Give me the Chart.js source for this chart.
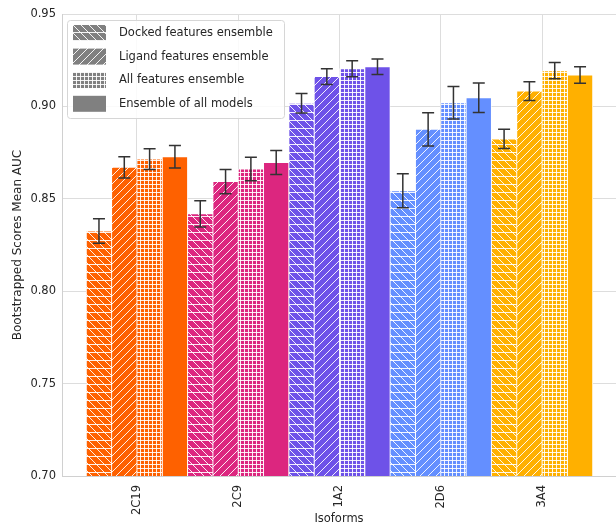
<!DOCTYPE html>
<html>
<head>
<meta charset="utf-8">
<script src="https://cdn.jsdelivr.net/npm/chart.js@4.4.0/dist/chart.umd.min.js"></script>
<style>
  html, body { margin: 0; padding: 0; background: #fff; overflow: hidden; }
  canvas { display: block; }
</style>
</head>
<body>
<canvas id="aucChart" width="616" height="527"></canvas>
<script>
const isoforms = ["2C19", "2C9", "1A2", "2D6", "3A4"];
const series_names = ["Docked features ensemble", "Ligand features ensemble", "All features ensemble", "Ensemble of all models"];
const docked = [0.8326, 0.8419, 0.9017, 0.8544, 0.8824];
const docked_err = [0.0066, 0.0071, 0.0053, 0.0092, 0.0052];
const ligand = [0.8670, 0.8593, 0.9161, 0.8876, 0.9083];
const ligand_err = [0.0058, 0.0065, 0.0043, 0.0090, 0.0051];
const all_features = [0.8715, 0.8661, 0.9204, 0.9020, 0.9193];
const all_err = [0.0056, 0.0064, 0.0043, 0.0088, 0.0044];
const ensemble = [0.8728, 0.8696, 0.9215, 0.9047, 0.9170];
const ensemble_err = [0.0061, 0.0065, 0.0042, 0.0080, 0.0045];
const y_ticks = [0.70, 0.75, 0.80, 0.85, 0.90, 0.95];
const isoform_colors = ["#fe6100", "#dc267f", "#6e52e8", "#648fff", "#ffb000"];
const hatches = ["docked", "ligand", "grid", "solid"];

const text_color = "#262626";
const grid_color = "#dddddd";
Chart.defaults.font.family = "'DejaVu Sans', sans-serif";
Chart.defaults.color = text_color;

// hatch fill, tiled from a small canvas
function makePattern(color, kind) {
  if (kind === "solid") return color;
  const s = kind === "grid" ? 4 : 8;
  const c = document.createElement("canvas");
  c.width = s;
  c.height = s;
  const ctx = c.getContext("2d");
  ctx.fillStyle = color;
  ctx.fillRect(0, 0, s, s);
  ctx.strokeStyle = "rgba(255,255,255,0.9)";
  ctx.lineWidth = 1;
  ctx.beginPath();
  if (kind === "grid") {
    ctx.moveTo(0, 0.5); ctx.lineTo(s, 0.5);
    ctx.moveTo(0.5, 0); ctx.lineTo(0.5, s);
  } else if (kind === "docked") {
    ctx.moveTo(0, 0.5); ctx.lineTo(s, 0.5);
    for (const o of [-s, 0, s]) { ctx.moveTo(o, 0); ctx.lineTo(o + s, s); }
  } else {
    for (const o of [-s, 0, s]) { ctx.moveTo(o, s); ctx.lineTo(o + s, 0); }
  }
  ctx.stroke();
  return ctx.createPattern(c, "repeat");
}

const values = [docked, ligand, all_features, ensemble];
const errors = [docked_err, ligand_err, all_err, ensemble_err];

const datasets = values.map((vals, k) => ({
  label: series_names[k],
  data: vals.map((v, i) => ({ x: i, y: v })),
  backgroundColor: isoform_colors.map((c) => makePattern(c, hatches[k])),
  borderColor: "#ffffff",
  borderWidth: 0.8,
  errors: errors[k],
  hatch: hatches[k],
}));

const errorBars = {
  id: "errorBars",
  afterDatasetsDraw(chart) {
    const ctx = chart.ctx;
    const yScale = chart.scales.y;
    ctx.save();
    ctx.strokeStyle = "#333333";
    ctx.lineWidth = 1.5;
    chart.data.datasets.forEach((ds, k) => {
      chart.getDatasetMeta(k).data.forEach((bar, i) => {
        const v = ds.data[i].y;
        const e = ds.errors[i];
        const top = yScale.getPixelForValue(v + e);
        const bot = yScale.getPixelForValue(v - e);
        ctx.beginPath();
        ctx.moveTo(bar.x, top); ctx.lineTo(bar.x, bot);
        ctx.moveTo(bar.x - 6, top); ctx.lineTo(bar.x + 6, top);
        ctx.moveTo(bar.x - 6, bot); ctx.lineTo(bar.x + 6, bot);
        ctx.stroke();
      });
    });
    ctx.restore();
  },
};

const hatchLegend = {
  id: "hatchLegend",
  afterDraw(chart) {
    const ctx = chart.ctx;
    const x0 = chart.chartArea.left + 5;
    const y0 = chart.chartArea.top + 6;
    const w = 217, h = 98;
    ctx.save();
    ctx.beginPath();
    ctx.roundRect(x0 + 0.5, y0 + 0.5, w, h, 3);
    ctx.fillStyle = "rgba(255,255,255,0.85)";
    ctx.fill();
    ctx.strokeStyle = "#d6d6d6";
    ctx.lineWidth = 1;
    ctx.stroke();
    ctx.font = "11.5px 'DejaVu Sans'";
    ctx.textBaseline = "middle";
    chart.data.datasets.forEach((ds, k) => {
      const cy = y0 + 13 + k * 23.6;
      ctx.fillStyle = makePattern("#808080", ds.hatch);
      ctx.fillRect(x0 + 6, cy - 8, 33, 16);
      ctx.fillStyle = text_color;
      ctx.fillText(ds.label, x0 + 52, cy);
    });
    ctx.restore();
  },
};

new Chart(document.getElementById("aucChart"), {
  type: "bar",
  data: { datasets: datasets },
  options: {
    responsive: false,
    animation: false,
    devicePixelRatio: 1,
    layout: { padding: { top: 14, right: 0, left: 0, bottom: 0 } },
    datasets: { bar: { categoryPercentage: 1, barPercentage: 1 } },
    plugins: {
      legend: { display: false },
      tooltip: { enabled: false },
    },
    scales: {
      x: {
        type: "linear",
        min: -0.74,
        max: 4.73,
        offset: false,
        afterBuildTicks: (scale) => {
          scale.ticks = isoforms.map((_, i) => ({ value: i }));
        },
        afterFit: (scale) => {
          scale.height = 51;
        },
        ticks: {
          autoSkip: false,
          minRotation: 90,
          maxRotation: 90,
          padding: 9,
          font: { size: 11.5 },
          callback: (v) => isoforms[v],
        },
        grid: { color: grid_color, drawTicks: false, offset: false },
        border: { color: "#d0d0d0" },
        title: {
          display: true,
          text: "Isoforms",
          font: { size: 11.5 },
          padding: { top: 0, bottom: 1 },
        },
      },
      y: {
        min: 0.7,
        max: 0.95,
        afterBuildTicks: (scale) => {
          scale.ticks = y_ticks.map((v) => ({ value: v }));
        },
        afterFit: (scale) => {
          scale.width = 62;
        },
        ticks: {
          padding: 6,
          font: { size: 11.5 },
          callback: (v) => v.toFixed(2),
        },
        grid: { color: grid_color, drawTicks: false },
        border: { color: "#d0d0d0" },
        title: {
          display: true,
          text: "Bootstrapped Scores Mean AUC",
          font: { size: 12 },
          padding: { top: 11, bottom: 0 },
        },
      },
    },
  },
  plugins: [errorBars, hatchLegend],
});
</script>
</body>
</html>
